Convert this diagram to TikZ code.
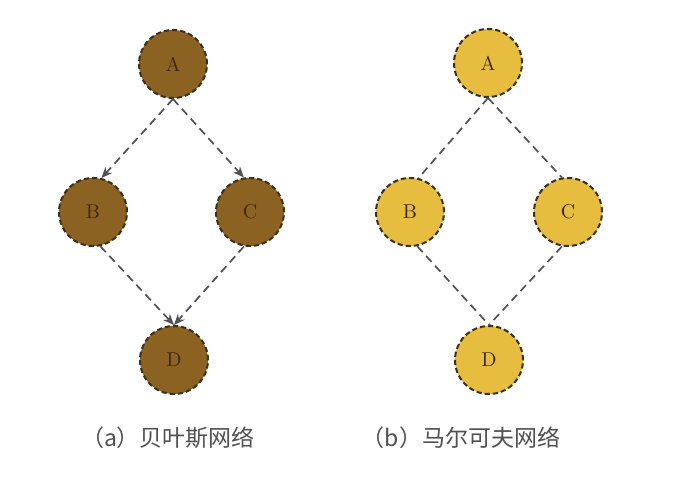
\documentclass[tikz,border=0pt]{standalone}
\usepackage{fontspec}
\newfontfamily\cjk{Noto Sans CJK SC}
\usetikzlibrary{arrows.meta}
\definecolor{bayes}{RGB}{139,98,34}
\definecolor{markov}{RGB}{230,189,62}
\definecolor{rim}{RGB}{60,48,28}
\definecolor{edge}{RGB}{80,80,86}
\definecolor{caption}{RGB}{80,80,80}
\tikzset{
  var/.style={circle, minimum size=34pt, inner sep=0pt, draw=rim,
    line width=1pt, dash pattern=on 2.6pt off 1.5pt,
    text={rgb,255:red,62;green,40;blue,20}, font=\fontsize{10}{10}\selectfont},
  link/.style={draw=edge, line width=0.85pt, dash pattern=on 4pt off 2.6pt},
  legend/.style={text=caption, font=\cjk\fontsize{11.5}{12}\selectfont}
}
\begin{document}
\begin{tikzpicture}[x=0.5pt,y=-0.5pt]
\useasboundingbox (0,0) rectangle (694,498);

% (a) Bayesian network
\node[var, fill=bayes] (bA) at (173,64) {A};
\node[var, fill=bayes] (bB) at (93,212) {B};
\node[var, fill=bayes] (bC) at (250,212) {C};
\node[var, fill=bayes] (bD) at (174,360) {D};
\draw[link, -{Stealth[length=5.5pt,width=4.5pt,fill=rim]}] (bA.south) -- (bB.76);
\draw[link, -{Stealth[length=5.5pt,width=4.5pt,fill=rim]}] (bA.south) -- (bC.100);
\draw[link, -{Stealth[length=5.5pt,width=4.5pt,fill=rim]}] (bB.-78) -- (bD.north);
\draw[link, -{Stealth[length=5.5pt,width=4.5pt,fill=rim]}] (bC.-100) -- (bD.north);
\node[legend] (ta) at (168,438) {（a）贝叶斯网络};

% (b) Markov network
\node[var, fill=markov] (mA) at (488,63) {A};
\node[var, fill=markov] (mB) at (410,212) {B};
\node[var, fill=markov] (mC) at (568,212) {C};
\node[var, fill=markov] (mD) at (489,360) {D};
\draw[link] (mA.south) -- (mB.76);
\draw[link] (mA.south) -- (mC.100);
\draw[link] (mB.-78) -- (mD.north);
\draw[link] (mC.-100) -- (mD.north);
\node[legend] (tb) at (461,438) {（b）马尔可夫网络};
\end{tikzpicture}
\end{document}
